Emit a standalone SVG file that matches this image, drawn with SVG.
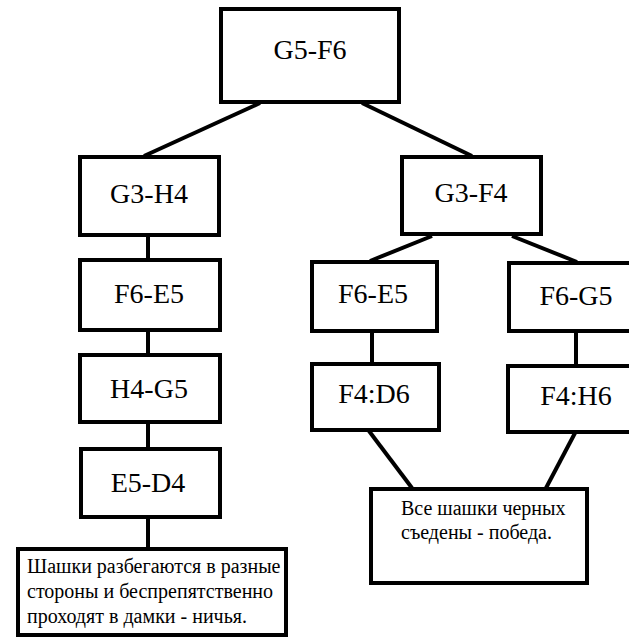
<svg xmlns="http://www.w3.org/2000/svg" width="629" height="637" viewBox="0 0 629 637">
<style>
.box{fill:#fff;stroke:#000;stroke-width:4}
.lbl{font-size:28px;fill:#000;text-anchor:middle}
.txt{font-size:20px;fill:#000}
#connectors line{stroke:#000;stroke-width:4}
</style>
<rect width="629" height="637" fill="#fff"/>
<g id="connectors">
<line x1="260" y1="103" x2="144" y2="156"/>
<line x1="362" y1="103" x2="472" y2="156"/>
<line x1="432" y1="236" x2="370" y2="261"/>
<line x1="512" y1="236" x2="577" y2="262"/>
<line x1="148" y1="237" x2="148" y2="258"/>
<line x1="148" y1="332" x2="148" y2="353"/>
<line x1="148" y1="424" x2="148" y2="447"/>
<line x1="148" y1="519" x2="148" y2="547"/>
<line x1="372" y1="332" x2="372" y2="363"/>
<line x1="576" y1="333" x2="576" y2="364"/>
<line x1="369" y1="431" x2="412" y2="488"/>
<line x1="575" y1="433" x2="546" y2="488"/>
</g>
<g id="nodes" font-family="Liberation Serif, Times New Roman, serif">
<g id="n-g5f6"><rect class="box" x="221" y="9" width="178" height="93"/><text class="lbl" x="310" y="59">G5-F6</text></g>
<g id="n-g3h4"><rect class="box" x="80" y="157" width="139" height="78"/><text class="lbl" x="149" y="203">G3-H4</text></g>
<g id="n-g3f4"><rect class="box" x="402" y="157" width="139" height="77"/><text class="lbl" x="471" y="202">G3-F4</text></g>
<g id="n-f6e5-l"><rect class="box" x="80" y="260" width="140" height="70"/><text class="lbl" x="149" y="303">F6-E5</text></g>
<g id="n-h4g5"><rect class="box" x="80" y="355" width="140" height="67"/><text class="lbl" x="149" y="398">H4-G5</text></g>
<g id="n-e5d4"><rect class="box" x="81" y="449" width="139" height="68"/><text class="lbl" x="148" y="492">E5-D4</text></g>
<g id="n-draw"><rect class="box" x="18" y="549" width="268" height="86"/>
<text class="txt" x="27" y="573">Шашки разбегаются в разные</text>
<text class="txt" x="27" y="598">стороны и беспрепятственно</text>
<text class="txt" x="27" y="623">проходят в дамки - ничья.</text></g>
<g id="n-f6e5-r"><rect class="box" x="312" y="262" width="125" height="69"/><text class="lbl" x="373" y="303">F6-E5</text></g>
<g id="n-f4d6"><rect class="box" x="312" y="364" width="127" height="66"/><text class="lbl" x="374" y="403">F4:D6</text></g>
<g id="n-f6g5"><rect class="box" x="509" y="263" width="130" height="68"/><text class="lbl" x="576" y="305">F6-G5</text></g>
<g id="n-f4h6"><rect class="box" x="508" y="366" width="130" height="66"/><text class="lbl" x="576" y="405">F4:H6</text></g>
<g id="n-win"><rect class="box" x="371" y="489" width="216" height="94"/>
<text class="txt" x="401" y="515">Все шашки черных</text>
<text class="txt" x="401" y="539">съедены - победа.</text></g>
</g>
</svg>
